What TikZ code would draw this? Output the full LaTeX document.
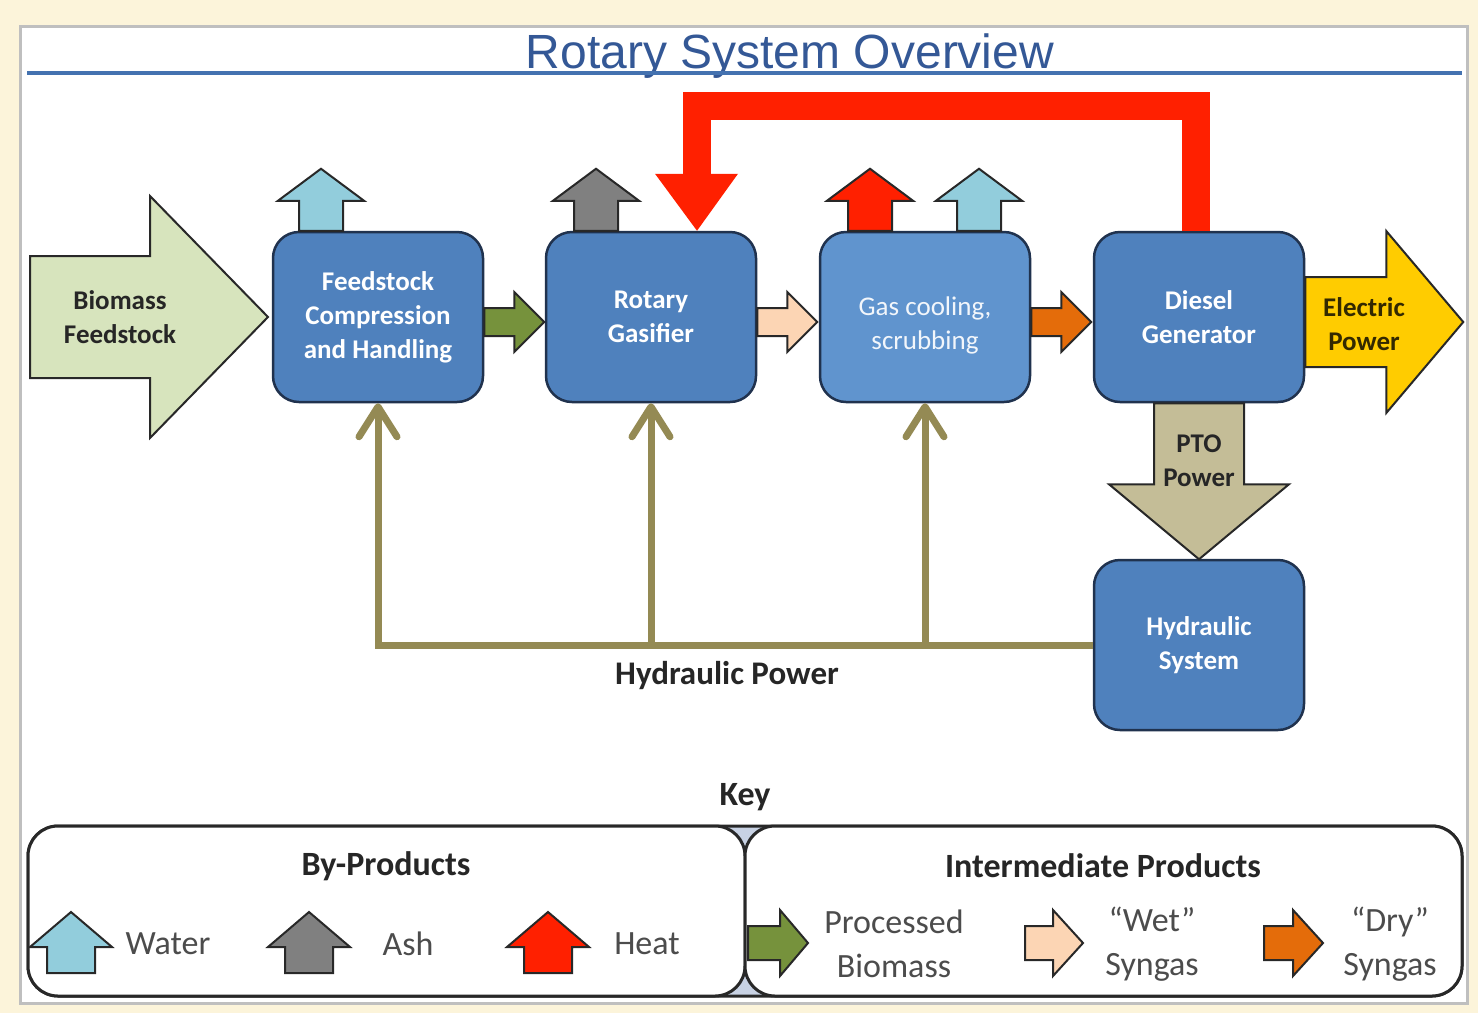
\documentclass[tikz,border=0pt]{standalone}
\usepackage{fontspec}
\setmainfont{Carlito}
\newfontfamily\titlefont{Liberation Sans}
\usepackage{tikz}
\usetikzlibrary{calc,arrows.meta}
\definecolor{panelbg}{RGB}{252,244,218}
\definecolor{titleblue}{RGB}{52,88,150}
\definecolor{ruleblue}{RGB}{68,114,176}
\definecolor{boxblue}{RGB}{79,129,189}
\definecolor{boxlight}{RGB}{96,148,206}
\definecolor{boxedge}{RGB}{32,50,78}
\definecolor{edgedark}{RGB}{40,40,40}
\definecolor{biogreen}{RGB}{215,228,189}
\definecolor{procgreen}{RGB}{118,146,60}
\definecolor{wetpeach}{RGB}{252,213,180}
\definecolor{dryorange}{RGB}{228,108,10}
\definecolor{elecyellow}{RGB}{255,204,0}
\definecolor{ptotan}{RGB}{196,189,151}
\definecolor{hydolive}{RGB}{148,138,84}
\definecolor{waterblue}{RGB}{146,205,220}
\definecolor{ashgray}{RGB}{128,128,128}
\definecolor{heatred}{RGB}{255,32,0}
\definecolor{keygap}{RGB}{200,210,228}

% block arrow: style, start, angle, length, half shaft, half head, head length
\newcommand{\blockarrow}[7]{%
  \draw[#1, shift={(#2)}, rotate=#3] (0,-#5) -- ({#4-#7},-#5) -- ({#4-#7},-#6) -- (#4,0)
    -- ({#4-#7},#6) -- ({#4-#7},#5) -- (0,#5) -- cycle;}

\begin{document}
\begin{tikzpicture}[x=1pt, y=-1pt,
  procbox/.style={draw=boxedge, line width=2.5pt, fill=boxblue, rounded corners=26pt,
    minimum width=210pt, minimum height=170pt, text=white, align=center,
    font=\fontsize{27}{34}\selectfont\bfseries},
  blk/.style={draw=edgedark, line width=2pt, line join=miter},
  hydline/.style={draw=hydolive, line width=7pt, -{Straight Barb[length=30pt,width=38pt,round]}},
  darklbl/.style={align=center, text=black!85, font=\fontsize{27}{34}\selectfont\bfseries},
  keyhead/.style={text=black!85, font=\fontsize{34}{40}\selectfont\bfseries},
  keylbl/.style={align=center, text=black!70, font=\fontsize{34}{44}\selectfont},
  keyframe/.style={draw=edgedark, line width=3pt, fill=white, rounded corners=30pt,
    minimum width=717pt, minimum height=170pt}]
  % slide and panel
  \fill[panelbg] (0,0) rectangle (1478,1013);
  \draw[draw=black!25, line width=3pt, fill=white] (20,26) rectangle (1467,1003);
  \useasboundingbox (0,0) rectangle (1478,1013);

  % title
  \node[anchor=base, text=titleblue, font=\titlefont\fontsize{48}{56}\selectfont] (title) at (790,68) {Rotary System Overview};
  \draw[ruleblue, line width=4pt] (27,73) -- (1462,73);

  % process boxes
  \node[procbox] (feed) at (378,317) {Feedstock\\Compression\\and Handling};
  \node[procbox] (gasif) at (651,317) {Rotary\\Gasifier};
  \node[procbox, fill=boxlight] (cool) at (925,317) {};
  \node[align=center, text=white!92!boxlight, font=\fontsize{27}{34}\selectfont] (cooltxt) at ($(cool)+(0,8)$) {Gas cooling,\\scrubbing};
  \node[procbox] (diesel) at (1199,317) {Diesel\\Generator};
  \node[procbox] (hydsys) at (1199,645) {Hydraulic\\System};

  % biomass in
  \coordinate (bioin) at (30,317);
  \blockarrow{blk, fill=biogreen}{bioin}{0}{238}{61}{121}{118}
  \node[darklbl] (biotxt) at (120,317) {Biomass\\Feedstock};

  % intermediate products
  \blockarrow{blk, fill=procgreen}{$(feed.east)+(0,5)$}{0}{60}{14}{30}{30}
  \blockarrow{blk, fill=wetpeach}{$(gasif.east)+(0,5)$}{0}{60}{14}{30}{30}
  \blockarrow{blk, fill=dryorange}{$(cool.east)+(0,5)$}{0}{60}{14}{30}{30}

  % electric and PTO power
  \blockarrow{blk, fill=elecyellow}{$(diesel.east)+(0,5)$}{0}{158}{45}{91}{77}
  \node[darklbl, text=black!80!elecyellow] (elec) at (1364,324) {Electric\\Power};
  \blockarrow{blk, fill=ptotan}{diesel.south}{-90}{156}{45}{90}{75}
  \node[darklbl] (pto) at (1199,461) {PTO\\Power};

  % by-products
  \blockarrow{blk, fill=waterblue}{$(feed.north)+(-57,0)$}{90}{62}{22}{43}{32}
  \blockarrow{blk, fill=ashgray}{$(gasif.north)+(-55,0)$}{90}{62}{22}{43}{32}
  \blockarrow{blk, fill=heatred}{$(cool.north)+(-55,0)$}{90}{62}{22}{43}{32}
  \blockarrow{blk, fill=waterblue}{$(cool.north)+(54,0)$}{90}{62}{22}{43}{32}

  % heat loop back to gasifier
  \coordinate (loopR) at ($(diesel.north)+(-3,0)$);
  \coordinate (loopL) at ($(gasif.north)+(46,-57)$);
  \draw[heatred, line width=28pt] (loopR) -- ++(0,-125) -| (loopL);
  \fill[heatred] ($(loopL)+(-42,0)$) -- ($(loopL)+(41,0)$) -- ($(gasif.north)+(46,0)$) -- cycle;

  % hydraulic power
  \draw[hydline] (hydsys.west) -| (feed.south);
  \draw[hydline] (gasif.south |- hydsys.west) -- (gasif.south);
  \draw[hydline] (cool.south |- hydsys.west) -- (cool.south);
  \node[keyhead, font=\fontsize{33}{40}\selectfont\bfseries] (hydpow) at (727,676) {Hydraulic Power};

  % key
  \node[keyhead] (keyt) at (745,797) {Key};
  \node[keyframe, fill=keygap, minimum width=1434pt] (keyall) at (745,911) {};
  \node[keyframe] (keyL) at (386.5,911) {};
  \node[keyframe] (keyR) at (1103.5,911) {};
  \node[keyhead] (byprod) at (386,866) {By-Products};
  \node[keyhead] (interm) at (1103,866) {Intermediate Products};

  \blockarrow{blk, fill=waterblue}{71,973}{90}{61}{24}{41}{35}
  \node[keylbl, anchor=west] (kwater) at (122,944) {Water};
  \blockarrow{blk, fill=ashgray}{309,973}{90}{61}{24}{41}{35}
  \node[keylbl] (kash) at (408,944) {Ash};
  \blockarrow{blk, fill=heatred}{548,973}{90}{61}{24}{41}{35}
  \node[keylbl] (kheat) at (647,944) {Heat};

  \blockarrow{blk, fill=procgreen}{748,943}{0}{60}{17}{33}{28}
  \node[keylbl] (kproc) at (894,944) {Processed\\Biomass};
  \blockarrow{blk, fill=wetpeach}{1025,943}{0}{58}{17}{33}{30}
  \node[keylbl] (kwet) at (1152,944) {“Wet”\\Syngas};
  \blockarrow{blk, fill=dryorange}{1264,943}{0}{59}{17}{33}{30}
  \node[keylbl] (kdry) at (1390,944) {“Dry”\\Syngas};
\end{tikzpicture}
\end{document}
